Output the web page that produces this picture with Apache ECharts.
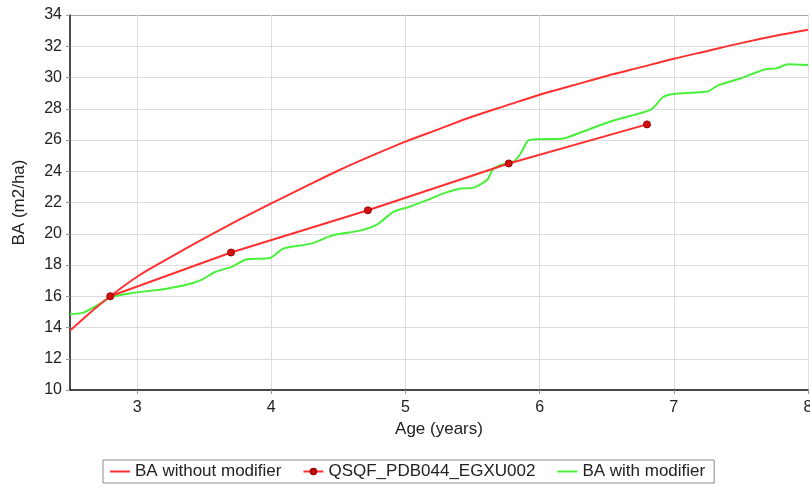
<!DOCTYPE html>
<html>
<head>
<meta charset="utf-8">
<script src="https://cdn.jsdelivr.net/npm/echarts@6/dist/echarts.min.js"></script>
<style>
  html, body { margin: 0; padding: 0; background: #fff; }
  #chart { width: 810px; height: 488px; }
</style>
</head>
<body>
<div id="chart"></div>
<script>
// Basal area (m2/ha) against stand age (years)
const xTicks = [3, 4, 5, 6, 7, 8];

// Modelled BA without the modifier
const ageWithout = [2.5, 2.65, 2.8, 3.0, 3.25, 3.5, 3.75, 4.0, 4.25, 4.5, 4.75, 5.0, 5.25, 5.5, 5.75, 6.0, 6.25, 6.5, 6.75, 7.0, 7.25, 7.5, 7.75, 8.0];
const baWithout  = [13.8, 14.95, 16.0, 17.25, 18.5, 19.7, 20.85, 21.95, 23.0, 24.05, 25.0, 25.9, 26.7, 27.5, 28.2, 28.9, 29.5, 30.1, 30.65, 31.2, 31.7, 32.2, 32.65, 33.05];

// Plot measurements
const ageObserved = [2.8, 3.7, 4.72, 5.77, 6.8];
const baObserved  = [16.0, 18.8, 21.5, 24.5, 27.0];

// Modelled BA with the modifier
const ageWith = [2.5, 2.6, 2.7, 2.81, 2.96, 3.1, 3.21, 3.36, 3.48, 3.58, 3.71, 3.81, 3.99, 4.09, 4.29, 4.46, 4.66, 4.79, 4.91, 5.02, 5.16, 5.29, 5.41, 5.51, 5.61, 5.65, 5.71, 5.81, 5.86, 5.92, 6.18, 6.31, 6.55, 6.83, 6.92, 7.0, 7.25, 7.33, 7.5, 7.67, 7.77, 7.85, 8.0];
const baWith  = [14.85, 14.95, 15.4, 15.95, 16.2, 16.35, 16.47, 16.72, 17.05, 17.55, 17.9, 18.35, 18.45, 19.05, 19.35, 19.9, 20.2, 20.6, 21.4, 21.7, 22.15, 22.6, 22.9, 22.95, 23.45, 24.1, 24.4, 24.65, 25.15, 26.0, 26.1, 26.5, 27.25, 27.95, 28.75, 28.95, 29.1, 29.5, 29.95, 30.5, 30.6, 30.85, 30.8];

const zip = (xs, ys) => xs.map((x, i) => [x, ys[i]]);

const font = 'Liberation Sans, Arial, sans-serif';
const gridGrey = '#dcdcdc';
// horizontal grid lines 10..34; the top one doubles as the frame edge
const ySplitColors = Array.from({ length: 13 }, (_, i) => (i === 12 ? '#a8a8a8' : gridGrey));

const chart = echarts.init(document.getElementById('chart'), null, { renderer: 'canvas' });

chart.setOption({
  animation: false,
  backgroundColor: '#ffffff',
  grid: { left: 70, right: 2, top: 15, bottom: 98, containLabel: false, outerBoundsMode: 'none' },
  xAxis: {
    type: 'value',
    min: 2.5,
    max: 8,
    name: 'Age (years)',
    nameLocation: 'middle',
    nameGap: 30,
    nameTextStyle: { color: '#222', fontSize: 17, fontFamily: font },
    axisLine: { show: true, onZero: false, lineStyle: { color: '#111', width: 1.5 } },
    axisTick: { show: true, length: 4, customValues: xTicks, lineStyle: { color: '#999' } },
    axisLabel: { customValues: xTicks, color: '#222', fontSize: 16, fontFamily: font, margin: 10 },
    splitLine: { show: true, lineStyle: { color: gridGrey, width: 1 } }
  },
  yAxis: {
    type: 'value',
    min: 10,
    max: 34,
    interval: 2,
    name: 'BA (m2/ha)',
    nameLocation: 'middle',
    nameGap: 42,
    nameRotate: 90,
    nameTextStyle: { color: '#222', fontSize: 17, fontFamily: font },
    axisLine: { show: true, onZero: false, lineStyle: { color: '#111', width: 1.5 } },
    axisTick: { show: true, length: 4, lineStyle: { color: '#999' } },
    axisLabel: { color: '#222', fontSize: 16, fontFamily: font, margin: 8 },
    splitLine: { show: true, lineStyle: { color: ySplitColors, width: 1 } }
  },
  legend: {
    bottom: 5,
    left: 103,
    itemWidth: 20,
    itemHeight: 7,
    itemGap: 21,
    padding: [3, 9, 3, 6],
    borderColor: '#8a8a8a',
    borderWidth: 1,
    textStyle: { color: '#222', fontSize: 17, fontFamily: font },
    data: [
      { name: 'BA without modifier', itemStyle: { opacity: 0 } },
      { name: 'QSQF_PDB044_EGXU002' },
      { name: 'BA with modifier', itemStyle: { opacity: 0 } }
    ]
  },
  series: [
    {
      name: 'BA without modifier',
      type: 'line',
      data: zip(ageWithout, baWithout),
      smooth: 0.3,
      showSymbol: false,
      symbol: 'none',
      lineStyle: { color: '#ff3030', width: 2 },
      itemStyle: { color: '#ff3030' },
      z: 3
    },
    {
      name: 'QSQF_PDB044_EGXU002',
      type: 'line',
      data: zip(ageObserved, baObserved),
      symbol: 'circle',
      symbolSize: 7,
      showSymbol: true,
      lineStyle: { color: '#ff3030', width: 2 },
      itemStyle: { color: '#d01010', borderColor: '#a00000', borderWidth: 1 },
      z: 4
    },
    {
      name: 'BA with modifier',
      type: 'line',
      data: zip(ageWith, baWith),
      smooth: 0.2,
      showSymbol: false,
      symbol: 'none',
      lineStyle: { color: '#48f03a', width: 2 },
      itemStyle: { color: '#48f03a' },
      z: 2
    }
  ]
});
</script>
</body>
</html>
